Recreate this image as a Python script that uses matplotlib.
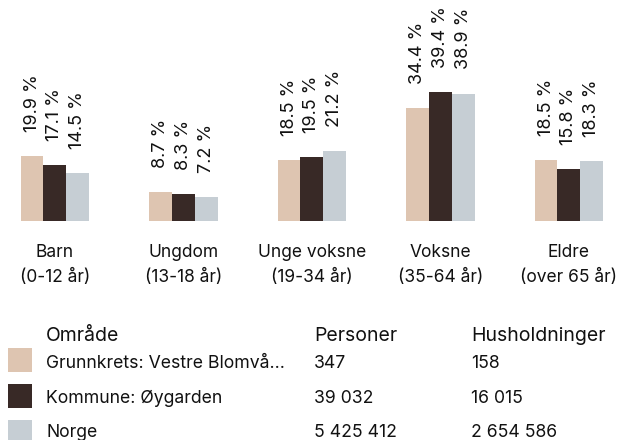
import matplotlib
matplotlib.use("Agg")
import matplotlib.pyplot as plt
import matplotlib.transforms as mtransforms
from matplotlib.patches import Rectangle

plt.rcParams['font.family'] = ['Inter', 'DejaVu Sans']

# ---- data ----
categories = ["Barn", "Ungdom", "Unge voksne", "Voksne", "Eldre"]
subtitles = ["(0-12 år)", "(13-18 år)", "(19-34 år)", "(35-64 år)", "(over 65 år)"]
series_names = ["Grunnkrets: Vestre Blomvå...", "Kommune: Øygarden", "Norge"]
grunnkrets = [19.9, 8.7, 18.5, 34.4, 18.5]
kommune = [17.1, 8.3, 19.5, 39.4, 15.8]
norge = [14.5, 7.2, 21.2, 38.9, 18.3]
personer = ["347", "39 032", "5 425 412"]
husholdninger = ["158", "16 015", "2 654 586"]
colors = ["#dec5b1", "#382926", "#c6ced4"]

W, H = 618, 440
fig = plt.figure(figsize=(W / 100, H / 100), dpi=100)

base_px = 220.7
ax = fig.add_axes([0, 1 - base_px / H, 1, base_px / H])
ax.set_xlim(-0.4268, 4.3825)
ax.set_ylim(0, 67.5)
ax.axis('off')

bw = 0.1772
values = [grunnkrets, kommune, norge]
for s, vals in enumerate(values):
    xs = [i + (s - 1) * bw for i in range(len(categories))]
    ax.bar(xs, vals, width=bw, color=colors[s], edgecolor='none')
    for x, v in zip(xs, vals):
        ax.annotate(f"{v:.1f} %", xy=(x, v), xytext=(0, 17.3), textcoords='offset points',
                    rotation=90, ha='center', va='bottom', fontsize=13, color='#111111')

# category labels
trans = mtransforms.blended_transform_factory(ax.transData, fig.transFigure)
for i, (c, sub) in enumerate(zip(categories, subtitles)):
    ax.text(i, 1 - 256.7 / H, c, transform=trans, ha='center', va='baseline',
            fontsize=12.5, color='#111111')
    ax.text(i, 1 - 281.5 / H, sub, transform=trans, ha='center', va='baseline',
            fontsize=12.5, color='#111111')

# legend table
def fy(px):
    return 1 - px / H

hdr = 14
fig.text(46 / W, fy(341), "Område", fontsize=hdr, ha='left', va='baseline', color='#111111')
fig.text(314 / W, fy(341), "Personer", fontsize=hdr, ha='left', va='baseline', color='#111111')
fig.text(471 / W, fy(341), "Husholdninger", fontsize=hdr, ha='left', va='baseline', color='#111111')

row = 12.7
baselines = [367.5, 402.5, 436.5]
for r in range(3):
    top = 348.3 + 36 * r
    fig.patches.append(Rectangle((8 / W, fy(top + 23.5)), 24 / W, 23.5 / H,
                                 transform=fig.transFigure, facecolor=colors[r],
                                 edgecolor='none'))
    bl = baselines[r]
    fig.text(46 / W, fy(bl), series_names[r], fontsize=row, ha='left', va='baseline', color='#111111')
    fig.text(314 / W, fy(bl), personer[r], fontsize=row, ha='left', va='baseline', color='#111111')
    fig.text(471 / W, fy(bl), husholdninger[r], fontsize=row, ha='left', va='baseline', color='#111111')

fig.savefig("out.png", dpi=100)
